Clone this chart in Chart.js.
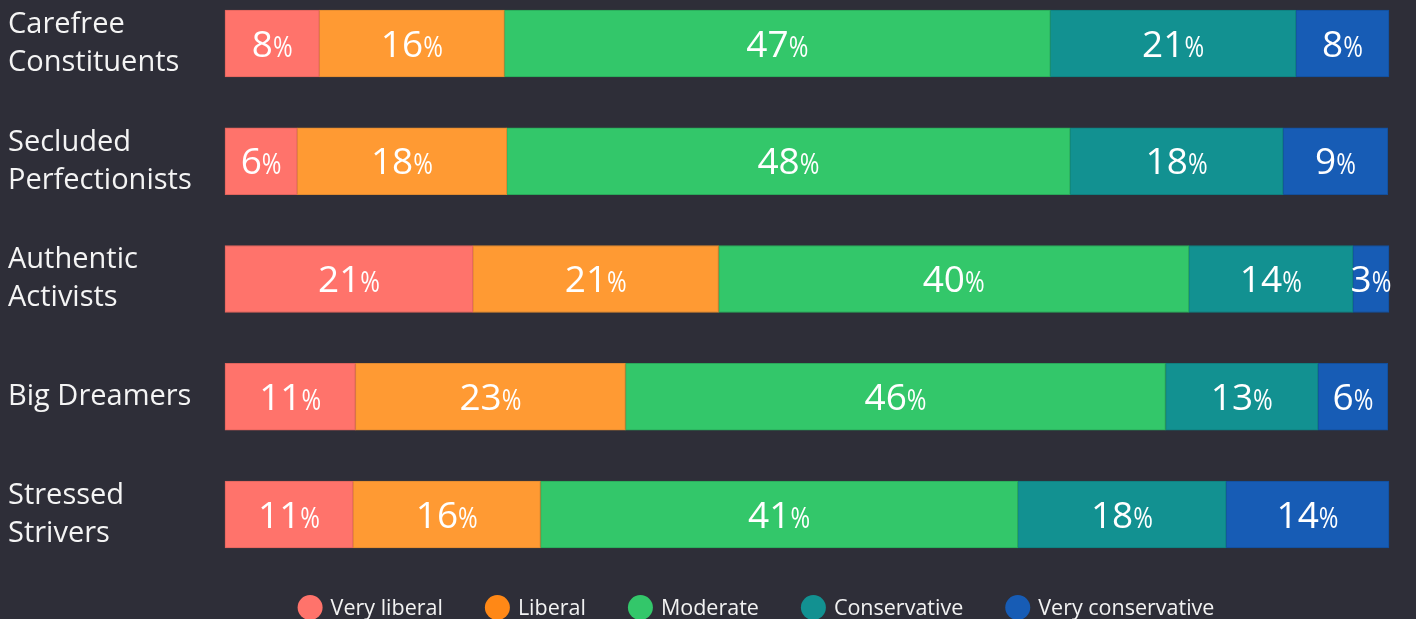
<!DOCTYPE html>
<html><head><meta charset="utf-8">
<script src="https://cdn.jsdelivr.net/npm/chart.js@4/dist/chart.umd.min.js"></script>
<style>html,body{margin:0;padding:0;background:#2e2e38;}#wrap{width:1416px;height:619px;}</style>
</head><body><div id="wrap"><canvas id="c" width="1416" height="619"></canvas></div>
<script>
const categories = [['Carefree','Constituents'],['Secluded','Perfectionists'],['Authentic','Activists'],'Big Dreamers',['Stressed','Strivers']];
const seriesNames = ['Very liberal','Liberal','Moderate','Conservative','Very conservative'];
const veryLiberal = [8.1, 6.2, 21.3, 11.2, 11.0];
const liberal = [15.9, 18.0, 21.1, 23.2, 16.1];
const moderate = [46.9, 48.4, 40.4, 46.4, 41.0];
const conservative = [21.1, 18.3, 14.1, 13.1, 17.9];
const veryConservative = [8.0, 9.0, 3.1, 6.0, 14.0];

const barColors = ['#ff736b','#ff9a33','#33c76a','#129191','#175cb5'];
const borderColors = ['#e0645d','#e08a30','#2aa85a','#0f7f7f','#134f9c'];
const legendColors = ['#ff736b','#ff8816','#33c76a','#129191','#175cb5'];
const seriesValues = [veryLiberal, liberal, moderate, conservative, veryConservative];

const FONT = "'Open Sans', sans-serif";

const labelPlugin = {
  id: 'segLabels',
  afterDatasetsDraw(chart) {
    const ctx = chart.ctx;
    ctx.save();
    ctx.fillStyle = '#ffffff';
    ctx.textBaseline = 'alphabetic';
    ctx.textAlign = 'left';
    const pctScale = 0.82;
    chart.data.datasets.forEach((ds, di) => {
      const meta = chart.getDatasetMeta(di);
      meta.data.forEach((bar, i) => {
        const num = String(Math.round(ds.data[i]));
        ctx.font = '37px ' + FONT;
        const w1 = ctx.measureText(num).width;
        ctx.font = '29px ' + FONT;
        const w2 = ctx.measureText('%').width * pctScale;
        const cx = (bar.x + bar.base) / 2;
        const x0 = cx - (w1 + w2) / 2;
        const yb = bar.y + 13;
        ctx.font = '37px ' + FONT;
        ctx.fillText(num, x0, yb);
        ctx.font = '29px ' + FONT;
        ctx.save();
        ctx.translate(x0 + w1, yb);
        ctx.scale(pctScale, 1);
        ctx.fillText('%', 0, 0);
        ctx.restore();
      });
    });
    ctx.restore();
  }
};

const legendPlugin = {
  id: 'customLegend',
  afterDraw(chart) {
    const ctx = chart.ctx;
    ctx.save();
    ctx.font = '21.5px ' + FONT;
    const r = 12.5, gapText = 8, gapItem = 42;
    const items = chart.data.datasets.map((ds, i) => ({label: ds.label, color: legendColors[i], w: ctx.measureText(ds.label).width}));
    let total = 0;
    items.forEach((it, i) => { total += 2*r + gapText + it.w + (i < items.length-1 ? gapItem : 0); });
    let x = 756 - total / 2;
    const cy = 607.5;
    items.forEach(it => {
      ctx.fillStyle = it.color;
      ctx.beginPath(); ctx.arc(x + r, cy, r, 0, Math.PI*2); ctx.fill();
      ctx.fillStyle = '#f2f2f2';
      ctx.textBaseline = 'alphabetic'; ctx.textAlign = 'left';
      ctx.fillText(it.label, x + 2*r + gapText, 615);
      x += 2*r + gapText + it.w + gapItem;
    });
    ctx.restore();
  }
};

new Chart(document.getElementById('c'), {
  type: 'bar',
  data: {
    labels: categories,
    datasets: seriesNames.map((name, i) => ({
      label: name,
      data: seriesValues[i],
      backgroundColor: barColors[i],
      borderColor: borderColors[i],
      borderWidth: 1,
      borderSkipped: false,
      barThickness: 67,
      clip: false
    }))
  },
  options: {
    indexAxis: 'y',
    responsive: false,
    animation: false,
    layout: { padding: { top: 43.5, bottom: 104.5, left: 8, right: 27 } },
    plugins: { legend: { display: false }, tooltip: { enabled: false } },
    scales: {
      x: { stacked: true, min: 0, max: 100, display: false },
      y: {
        stacked: true,
        offset: false,
        grid: { display: false },
        border: { display: false },
        ticks: { color: '#f4f4f4', crossAlign: 'far', padding: 0, font: { family: FONT, size: 29, lineHeight: 1.31 } },
        afterFit(scale) { scale.width = 217; }
      }
    }
  },
  plugins: [labelPlugin, legendPlugin]
});
</script></body></html>
